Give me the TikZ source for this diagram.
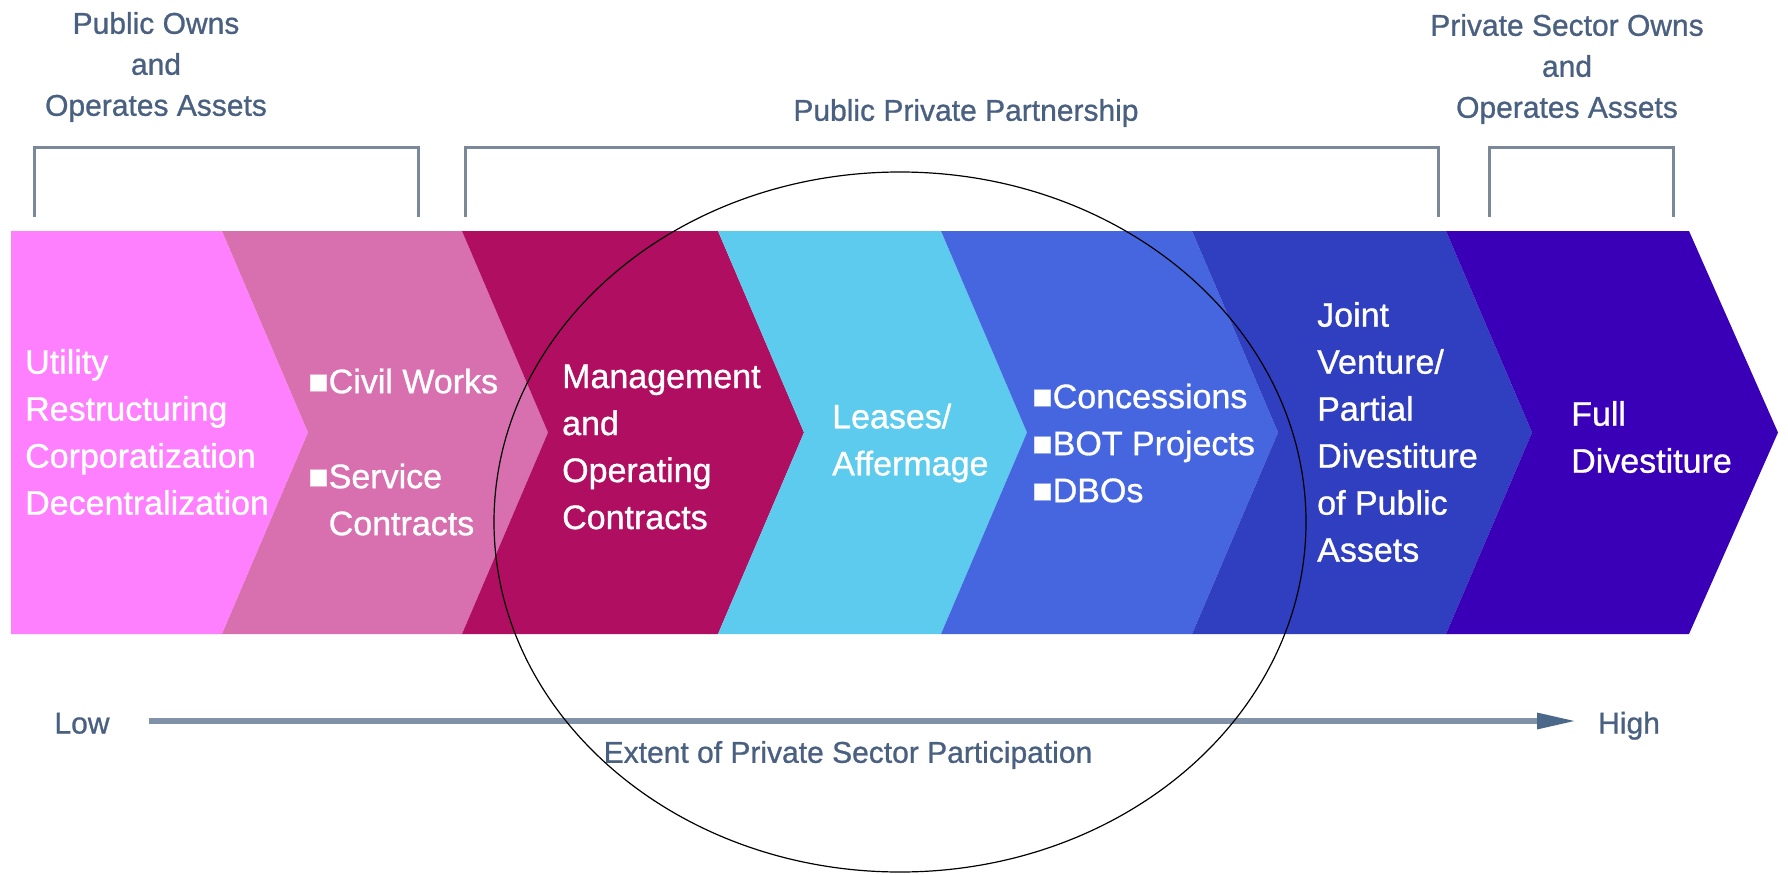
\documentclass[tikz,border=0pt]{standalone}
\usepackage{fontspec}
\setmainfont{Liberation Sans}
\newfontfamily\thickfont{Liberation Sans}[FakeBold=0.9]
\usetikzlibrary{arrows.meta}

\definecolor{pinka}{RGB}{255,128,255}
\definecolor{pinkb}{RGB}{216,112,176}
\definecolor{magen}{RGB}{176,14,96}
\definecolor{skyb}{RGB}{92,203,238}
\definecolor{royal}{RGB}{70,102,224}
\definecolor{deepb}{RGB}{48,62,192}
\definecolor{indig}{RGB}{58,0,184}
\definecolor{slate}{RGB}{74,96,128}
\definecolor{rulec}{RGB}{122,136,152}
\definecolor{axisc}{RGB}{128,145,168}
\definecolor{headc}{RGB}{74,104,138}

\newcommand\bul{■}

\begin{document}
\begin{tikzpicture}[x=1pt, y=-1pt,
  intext/.style={text=white, align=left, anchor=west, inner sep=0pt,
    font=\thickfont\fontsize{34}{47}\selectfont},
  toptext/.style={text=slate, align=center, inner sep=0pt,
    font=\thickfont\fontsize{30}{41}\selectfont},
  axtext/.style={text=slate, inner sep=0pt, text height=21.5pt, text depth=4.5pt,
    font=\thickfont\fontsize{30}{41}\selectfont},
  bracket/.style={draw=rulec, line width=3pt},
  axisline/.style={draw=axisc, line width=6pt,
    -{Triangle[length=40pt, width=15pt, color=headc]}}]
\useasboundingbox (0,0) rectangle (1788,875);
% chevrons
\fill[pinka] (11,231) -- (222,231) -- (308,432.5) -- (222,634) -- (11,634) -- cycle;
\fill[pinkb] (222,231) -- (462,231) -- (548,432.5) -- (462,634) -- (222,634) -- (308,432.5) -- cycle;
\fill[magen] (462,231) -- (718,231) -- (804,432.5) -- (718,634) -- (462,634) -- (548,432.5) -- cycle;
\fill[skyb] (718,231) -- (941,231) -- (1027,432.5) -- (941,634) -- (718,634) -- (804,432.5) -- cycle;
\fill[royal] (941,231) -- (1192,231) -- (1278,432.5) -- (1192,634) -- (941,634) -- (1027,432.5) -- cycle;
\fill[deepb] (1192,231) -- (1446,231) -- (1532,432.5) -- (1446,634) -- (1192,634) -- (1278,432.5) -- cycle;
\fill[indig] (1446,231) -- (1689,231) -- (1778,432.5) -- (1689,634) -- (1446,634) -- (1532,432.5) -- cycle;
% chevron texts
\node[intext] (reform) at (25,432) {Utility\\Restructuring\\Corporatization\\Decentralization};
\node[intext] (works) at (308,452) {\bul Civil Works\\[48pt]\bul Service\\\hphantom{\bul}Contracts};
\node[intext] (mgmt) at (562,447) {Management\\and\\Operating\\Contracts};
\node[intext] (lease) at (832,443) {Leases/\\Affermage};
\node[intext] (conc) at (1032,443) {\bul Concessions\\\bul BOT Projects\\\bul DBOs};
\node[intext] (joint) at (1317,432) {Joint\\Venture/\\Partial\\Divestiture\\of Public\\Assets};
\node[intext] (full) at (1571,437) {Full\\Divestiture};
% brackets and headings
\draw[bracket] (34,217) -- (34,147) -- (418,147) -- (418,217);
\draw[bracket] (465,217) -- (465,147) -- (1438,147) -- (1438,217);
\draw[bracket] (1489,217) -- (1489,147) -- (1673,147) -- (1673,217);
\node[toptext] (pubown) at (156,67) {Public Owns\\and\\Operates Assets};
\node[toptext] (ppp) at (966,113) {Public Private Partnership};
\node[toptext] (privown) at (1567,69) {Private Sector Owns\\and\\Operates Assets};
% axis
\node[axtext] (low) at (82,725) {Low};
\node[axtext, anchor=west] (high) at (1598,725) {High};
\draw[axisline, shorten <=39pt, shorten >=21pt] ([yshift=4pt]low.east) -- ([yshift=4pt]low.east -| high.west);
\node[toptext] (extent) at (848,755) {Extent of Private Sector Participation};
% highlight
\draw[line width=1.2pt] (900,522) ellipse [x radius=406, y radius=350];
\end{tikzpicture}
\end{document}
